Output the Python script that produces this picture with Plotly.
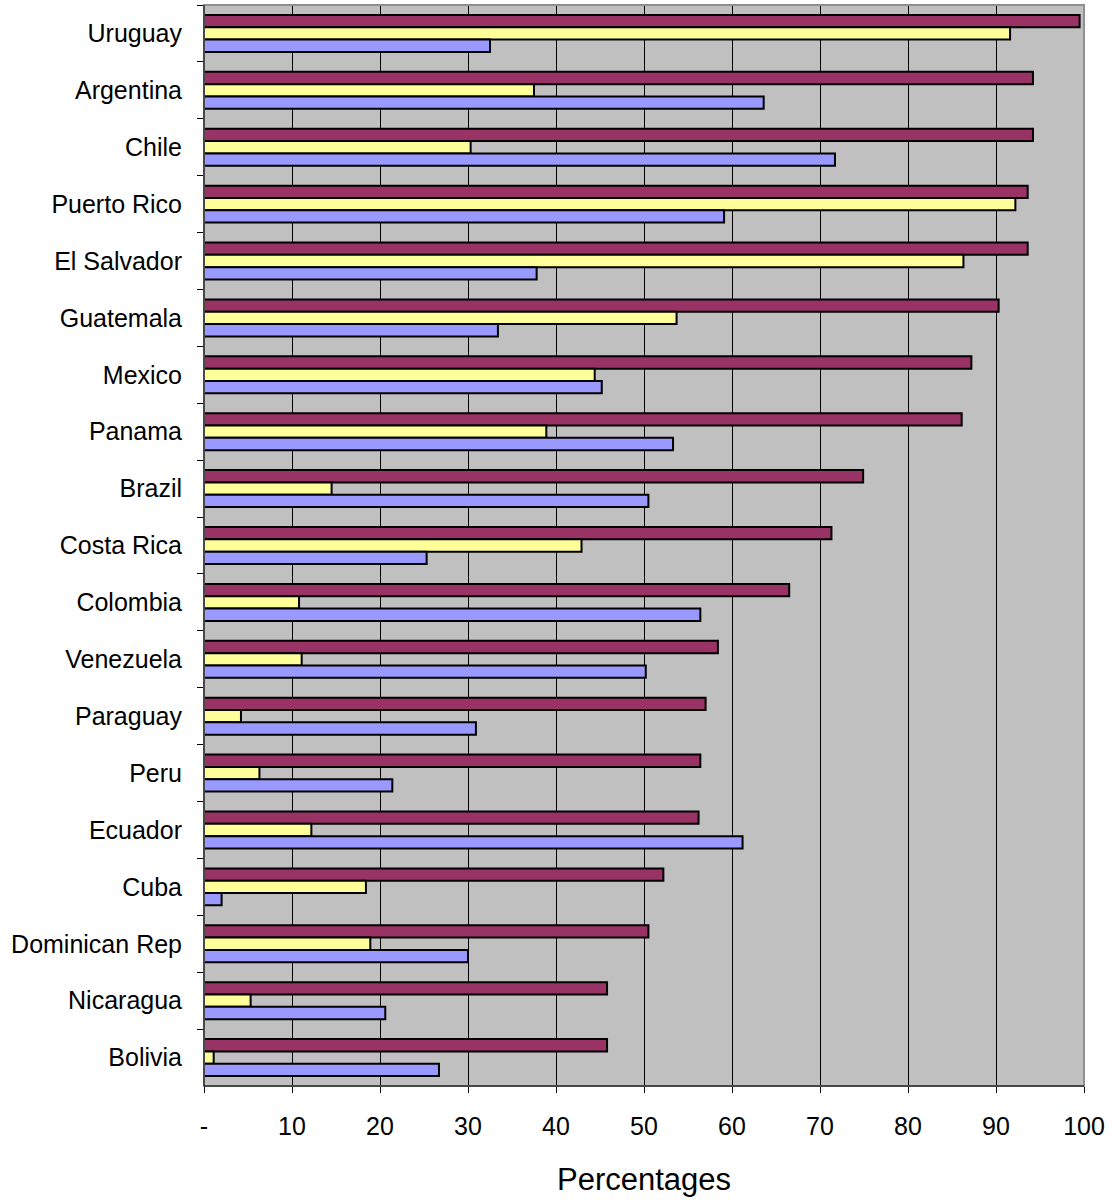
import plotly.graph_objects as go

countries = ["Uruguay", "Argentina", "Chile", "Puerto Rico", "El Salvador", "Guatemala",
             "Mexico", "Panama", "Brazil", "Costa Rica", "Colombia", "Venezuela",
             "Paraguay", "Peru", "Ecuador", "Cuba", "Dominican Rep", "Nicaragua", "Bolivia"]

series_red = [99.5, 94.2, 94.2, 93.6, 93.6, 90.3, 87.2, 86.1, 74.9, 71.3, 66.5, 58.4,
              57.0, 56.4, 56.2, 52.2, 50.5, 45.8, 45.8]
series_yellow = [91.6, 37.5, 30.3, 92.2, 86.3, 53.7, 44.4, 38.9, 14.5, 42.9, 10.8, 11.1,
                 4.2, 6.3, 12.2, 18.4, 18.9, 5.3, 1.1]
series_blue = [32.5, 63.6, 71.7, 59.1, 37.8, 33.4, 45.2, 53.3, 50.5, 25.3, 56.4, 50.2,
               30.9, 21.4, 61.2, 2.0, 30.0, 20.6, 26.7]

x_tickvals = [0, 10, 20, 30, 40, 50, 60, 70, 80, 90, 100]
x_ticktext = ["-", "10", "20", "30", "40", "50", "60", "70", "80", "90", "100"]

fig = go.Figure()
for vals, col in [(series_red, "#993366"), (series_yellow, "#FFFF99"), (series_blue, "#9999FF")]:
    fig.add_trace(go.Bar(
        y=countries, x=vals, orientation="h",
        marker=dict(color=col, line=dict(color="black", width=2)),
        showlegend=False,
    ))

fig.update_layout(
    width=1115, height=1200,
    margin=dict(l=204, r=31, t=5, b=114),
    paper_bgcolor="white", plot_bgcolor="#C0C0C0",
    barmode="group", bargap=0.35, bargroupgap=0,
    font=dict(family="Liberation Sans, Arial, sans-serif", size=25, color="black"),
)
fig.update_xaxes(
    range=[0, 100], tickvals=x_tickvals, ticktext=x_ticktext,
    showgrid=True, gridcolor="black", gridwidth=1,
    ticks="outside", ticklen=6, tickcolor="black",
    showline=True, linecolor="black", linewidth=1,
    ticklabelstandoff=12, automargin=False,
    title=dict(text="Percentages", font=dict(size=31), standoff=29),
    zeroline=False,
)
fig.update_yaxes(
    autorange="reversed", type="category",
    ticks="outside", ticklen=6, tickcolor="black", tickson="boundaries",
    showline=True, linecolor="black", linewidth=1,
    showgrid=False, ticklabelstandoff=16, automargin=False,
)
fig.add_shape(type="rect", xref="paper", yref="paper", x0=0, x1=1, y0=0, y1=1,
              line=dict(color="#909090", width=2), layer="above")
fig.add_shape(type="line", xref="paper", yref="paper", x0=0, x1=0, y0=0, y1=1,
              line=dict(color="black", width=1), layer="above")
fig.add_shape(type="line", xref="paper", yref="paper", x0=0, x1=1, y0=0, y1=0,
              line=dict(color="black", width=1), layer="above")

fig.write_html("out.html", config={"displayModeBar": False},
               post_script="document.body.style.margin='0';")
